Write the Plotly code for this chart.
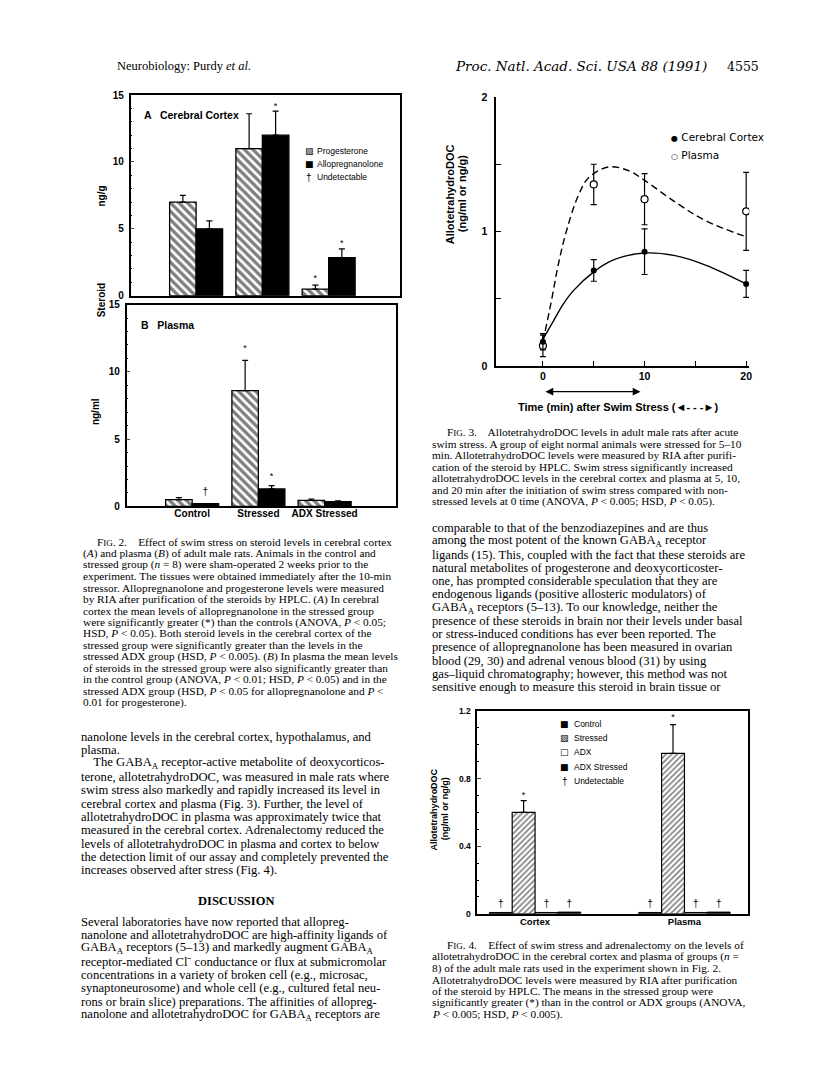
import plotly.graph_objects as go

W, H = 816, 1081

# ---------------- DATA ----------------
# Fig. 2 (A cerebral cortex, B plasma)
fig2_groups = ["Control", "Stressed", "ADX Stressed"]
fig2_xpos = [1, 2, 3]
cortex_prog = [7.0, 11.0, 0.5]
cortex_prog_err = [0.5, 2.6, 0.3]
cortex_allo = [5.0, 12.0, 2.85]
cortex_allo_err = [0.6, 1.8, 0.65]
cortex_prog_star = [None, None, 1.3]
cortex_allo_star = [None, 14.1, 3.85]
plasma_prog = [0.5, 8.6, 0.45]
plasma_prog_err = [0.15, 2.25, 0.1]
plasma_allo = [0.2, 1.3, 0.35]
plasma_allo_err = [0.0, 0.25, 0.07]
plasma_prog_star = [None, 11.7, None]
plasma_allo_star = [None, 2.2, None]
plasma_allo_dagger = [1.0, None, None]

# Fig. 3 time course
time_min = [0, 5, 10, 20]
cortex_thdoc = [0.18, 0.71, 0.85, 0.61]
cortex_thdoc_err = [0.06, 0.08, 0.17, 0.10]
plasma_thdoc = [0.15, 1.35, 1.24, 1.15]
plasma_thdoc_err = [0.08, 0.15, 0.19, 0.29]
cortex_fit_t = [0, 1, 2, 3, 5, 7, 10, 13, 16, 20]
cortex_fit_y = [0.20, 0.33, 0.46, 0.56, 0.70, 0.79, 0.84, 0.82, 0.75, 0.61]
plasma_fit_t = [0, 0.8, 1.5, 2.3, 3.5, 4.5, 6.5, 8.5, 10, 13, 16, 20]
plasma_fit_y = [0.18, 0.47, 0.75, 1.00, 1.27, 1.40, 1.48, 1.45, 1.38, 1.22, 1.08, 0.96]
stress_period = [0.1, 9.6]   # swim stress interval (min), drawn as double arrow

# Fig. 4 allotetrahydroDOC by group
fig4_tissues = ["Cortex", "Plasma"]
fig4_xpos = [1, 2]
f4_control = [0.008, 0.008]
f4_stressed = [0.60, 0.95]
f4_stressed_err = [0.07, 0.17]
f4_adx = [0.008, 0.008]
f4_adx_stressed = [0.01, 0.01]
f4_star = [0.70, 1.16]
f4_dagger = [0.055, 0.055]

# ---------------- TEXT ----------------
fig2_caption = [
    "F<span style='font-size:9px'>IG</span>. 2.    Effect of swim stress on steroid levels in cerebral cortex",
    "(<i>A</i>) and plasma (<i>B</i>) of adult male rats. Animals in the control and",
    "stressed group (<i>n</i> = 8) were sham-operated 2 weeks prior to the",
    "experiment. The tissues were obtained immediately after the 10-min",
    "stressor. Allopregnanolone and progesterone levels were measured",
    "by RIA after purification of the steroids by HPLC. (<i>A</i>) In cerebral",
    "cortex the mean levels of allopregnanolone in the stressed group",
    "were significantly greater (*) than the controls (ANOVA, <i>P</i> < 0.05;",
    "HSD, <i>P</i> < 0.05). Both steroid levels in the cerebral cortex of the",
    "stressed group were significantly greater than the levels in the",
    "stressed ADX group (HSD, <i>P</i> < 0.005). (<i>B</i>) In plasma the mean levels",
    "of steroids in the stressed group were also significantly greater than",
    "in the control group (ANOVA, <i>P</i> < 0.01; HSD, <i>P</i> < 0.05) and in the",
    "stressed ADX group (HSD, <i>P</i> < 0.05 for allopregnanolone and <i>P</i> <",
    "0.01 for progesterone).",
]
left_body = [
    "nanolone levels in the cerebral cortex, hypothalamus, and",
    "plasma.",
    "    The GABA<sub>A</sub> receptor-active metabolite of deoxycorticos-",
    "terone, allotetrahydroDOC, was measured in male rats where",
    "swim stress also markedly and rapidly increased its level in",
    "cerebral cortex and plasma (Fig. 3). Further, the level of",
    "allotetrahydroDOC in plasma was approximately twice that",
    "measured in the cerebral cortex. Adrenalectomy reduced the",
    "levels of allotetrahydroDOC in plasma and cortex to below",
    "the detection limit of our assay and completely prevented the",
    "increases observed after stress (Fig. 4).",
]
discussion = [
    "Several laboratories have now reported that allopreg-",
    "nanolone and allotetrahydroDOC are high-affinity ligands of",
    "GABA<sub>A</sub> receptors (5–13) and markedly augment GABA<sub>A</sub>",
    "receptor-mediated Cl⁻ conductance or flux at submicromolar",
    "concentrations in a variety of broken cell (e.g., microsac,",
    "synaptoneurosome) and whole cell (e.g., cultured fetal neu-",
    "rons or brain slice) preparations. The affinities of allopreg-",
    "nanolone and allotetrahydroDOC for GABA<sub>A</sub> receptors are",
]
fig3_caption = [
    "F<span style='font-size:9px'>IG</span>. 3.    AllotetrahydroDOC levels in adult male rats after acute",
    "swim stress. A group of eight normal animals were stressed for 5–10",
    "min. AllotetrahydroDOC levels were measured by RIA after purifi-",
    "cation of the steroid by HPLC. Swim stress significantly increased",
    "allotetrahydroDOC levels in the cerebral cortex and plasma at 5, 10,",
    "and 20 min after the initiation of swim stress compared with non-",
    "stressed levels at 0 time (ANOVA, <i>P</i> < 0.005; HSD, <i>P</i> < 0.05).",
]
right_body = [
    "comparable to that of the benzodiazepines and are thus",
    "among the most potent of the known GABA<sub>A</sub> receptor",
    "ligands (15). This, coupled with the fact that these steroids are",
    "natural metabolites of progesterone and deoxycorticoster-",
    "one, has prompted considerable speculation that they are",
    "endogenous ligands (positive allosteric modulators) of",
    "GABA<sub>A</sub> receptors (5–13). To our knowledge, neither the",
    "presence of these steroids in brain nor their levels under basal",
    "or stress-induced conditions has ever been reported. The",
    "presence of allopregnanolone has been measured in ovarian",
    "blood (29, 30) and adrenal venous blood (31) by using",
    "gas–liquid chromatography; however, this method was not",
    "sensitive enough to measure this steroid in brain tissue or",
]
fig4_caption = [
    "F<span style='font-size:9px'>IG</span>. 4.    Effect of swim stress and adrenalectomy on the levels of",
    "allotetrahydroDOC in the cerebral cortex and plasma of groups (<i>n</i> =",
    "8) of the adult male rats used in the experiment shown in Fig. 2.",
    "AllotetrahydroDOC levels were measured by RIA after purification",
    "of the steroid by HPLC. The means in the stressed group were",
    "significantly greater (*) than in the control or ADX groups (ANOVA,",
    "<i>P</i> < 0.005; HSD, <i>P</i> < 0.005).",
]

SERIF = "Liberation Serif"
SANS = "Liberation Sans"
CAP = 11.3
BODY = 12.6


def dx(a, b):
    return [a / W, b / W]


def dy(top, bottom):
    return [1 - bottom / H, 1 - top / H]


fig = go.Figure()

# ---------- Fig 2 bars ----------
BW2 = 0.4
hatch2 = dict(shape="\\", fgcolor="black", bgcolor="white", size=6, solidity=0.55)
err_kw = dict(type="data", symmetric=False, color="black", thickness=1.2, width=3)


def add_fig2(xa, ya, prog, perr, allo, aerr):
    fig.add_trace(go.Bar(x=fig2_xpos, y=prog, width=BW2, offset=-BW2, xaxis=xa, yaxis=ya,
                         marker=dict(color="white", pattern=hatch2, line=dict(color="black", width=1.3)),
                         error_y=dict(array=perr, arrayminus=[0] * 3, **err_kw), showlegend=False,
                         name="Progesterone"))
    fig.add_trace(go.Bar(x=fig2_xpos, y=allo, width=BW2, offset=0, xaxis=xa, yaxis=ya,
                         marker=dict(color="black", line=dict(color="black", width=1.3)),
                         error_y=dict(array=aerr, arrayminus=[0] * 3, **err_kw), showlegend=False,
                         name="Allopregnanolone"))


add_fig2("x", "y", cortex_prog, cortex_prog_err, cortex_allo, cortex_allo_err)
add_fig2("x2", "y2", plasma_prog, plasma_prog_err, plasma_allo, plasma_allo_err)


def add_marks(xa, ya, xs, ys, sym, size=9):
    px = [x for x, y in zip(xs, ys) if y is not None]
    py = [y for y in ys if y is not None]
    fig.add_trace(go.Scatter(x=px, y=py, mode="text", text=[sym] * len(px), xaxis=xa, yaxis=ya,
                             textfont=dict(size=size, color="black", family=SANS),
                             showlegend=False, hoverinfo="skip"))


add_marks("x", "y", [x - BW2 / 2 for x in fig2_xpos], cortex_prog_star, "*")
add_marks("x", "y", [x + BW2 / 2 for x in fig2_xpos], cortex_allo_star, "*")
add_marks("x2", "y2", [x - BW2 / 2 for x in fig2_xpos], plasma_prog_star, "*")
add_marks("x2", "y2", [x + BW2 / 2 for x in fig2_xpos], plasma_allo_star, "*")
add_marks("x2", "y2", [x + BW2 / 2 for x in fig2_xpos], plasma_allo_dagger, "†", 10)

# ---------- Fig 3 ----------
fig.add_trace(go.Scatter(x=plasma_fit_t, y=plasma_fit_y, mode="lines", line_shape="spline",
                         line=dict(color="black", width=1.4, dash="7px,4px"), xaxis="x3", yaxis="y3",
                         showlegend=False, hoverinfo="skip"))
fig.add_trace(go.Scatter(x=cortex_fit_t, y=cortex_fit_y, mode="lines", line_shape="spline",
                         line=dict(color="black", width=1.4), xaxis="x3", yaxis="y3",
                         showlegend=False, hoverinfo="skip"))
fig.add_trace(go.Scatter(x=time_min, y=plasma_thdoc, mode="markers", xaxis="x3", yaxis="y3",
                         marker=dict(symbol="circle", size=7, color="white", line=dict(color="black", width=1.2)),
                         error_y=dict(type="data", array=plasma_thdoc_err, color="black", thickness=1.2, width=3),
                         showlegend=False, name="Plasma"))
fig.add_trace(go.Scatter(x=time_min, y=cortex_thdoc, mode="markers", xaxis="x3", yaxis="y3",
                         marker=dict(symbol="circle", size=6, color="black"),
                         error_y=dict(type="data", array=cortex_thdoc_err, color="black", thickness=1.2, width=3),
                         showlegend=False, name="Cerebral Cortex"))

# ---------- Fig 4 ----------
BW4 = 0.153
hatch4 = dict(shape="/", fgcolor="black", bgcolor="white", size=4, solidity=0.4)
fig.add_trace(go.Bar(x=fig4_xpos, y=f4_control, width=BW4, offset=-2 * BW4, xaxis="x4", yaxis="y4",
                     marker=dict(color="black", line=dict(color="black", width=1)), showlegend=False, name="Control"))
fig.add_trace(go.Bar(x=fig4_xpos, y=f4_stressed, width=BW4, offset=-BW4, xaxis="x4", yaxis="y4",
                     marker=dict(color="white", pattern=hatch4, line=dict(color="black", width=1.2)),
                     error_y=dict(array=f4_stressed_err, arrayminus=[0, 0], **err_kw),
                     showlegend=False, name="Stressed"))
fig.add_trace(go.Bar(x=fig4_xpos, y=f4_adx, width=BW4, offset=0, xaxis="x4", yaxis="y4",
                     marker=dict(color="white", line=dict(color="black", width=1)), showlegend=False, name="ADX"))
fig.add_trace(go.Bar(x=fig4_xpos, y=f4_adx_stressed, width=BW4, offset=BW4, xaxis="x4", yaxis="y4",
                     marker=dict(color="black", line=dict(color="black", width=1)), showlegend=False,
                     name="ADX Stressed"))
add_marks("x4", "y4", [x - BW4 / 2 for x in fig4_xpos], f4_star, "*")
for off in (-1.5 * BW4, 0.5 * BW4, 1.5 * BW4):
    add_marks("x4", "y4", [x + off for x in fig4_xpos], f4_dagger, "†", 10)

# ---------- axes ----------
tickfont = dict(family=SANS, size=10, color="black", weight="bold")
box = dict(showline=True, linecolor="black", linewidth=1.5, mirror=True, showgrid=False, zeroline=False)

layout = dict(
    width=W, height=H, autosize=False, margin=dict(l=0, r=0, t=0, b=0),
    paper_bgcolor="white", plot_bgcolor="rgba(0,0,0,0)", showlegend=False, barmode="overlay",
    xaxis=dict(domain=dx(131, 401), range=[0.01, 4.07], showticklabels=False, ticks="", anchor="y", **box),
    yaxis=dict(domain=dy(90, 293), range=[0, 15], tickvals=[0, 5, 10, 15], ticks="inside", ticklen=4,
               tickfont=tickfont, anchor="x", ticklabelstandoff=3,
               minor=dict(dtick=1, ticks="inside", ticklen=2, tickcolor="black"), **box),
    xaxis2=dict(domain=dx(127, 397), range=[0.01, 4.07], tickvals=fig2_xpos, ticktext=fig2_groups,
                tickfont=dict(family=SANS, size=10, color="black", weight="bold"), ticks="", anchor="y2",
                ticklabelstandoff=-3, **box),
    yaxis2=dict(domain=dy(302, 506), range=[0, 15], tickvals=[0, 5, 10, 15], ticks="inside", ticklen=4,
                tickfont=tickfont, anchor="x2", ticklabelstandoff=3,
                minor=dict(dtick=1, ticks="inside", ticklen=2, tickcolor="black"), **box),
    xaxis3=dict(domain=dx(498, 752), range=[-4.6, 20.3], tickvals=[0, 10, 20],
                ticks="inside", ticklen=5, tickwidth=1.2, tickcolor="black", ticklabelstandoff=0,
                minor=dict(dtick=5, ticks="inside", ticklen=5, tickwidth=1.2, tickcolor="black"),
                tickfont=dict(family=SANS, size=10.5, color="black", weight="bold"), showline=True,
                linecolor="black", linewidth=1.5, showgrid=False, zeroline=False, anchor="y3"),
    yaxis3=dict(domain=dy(92, 364), range=[0, 2.0], tickvals=[0, 1, 2],
                ticks="inside", ticklen=5, tickwidth=1.2, tickcolor="black", ticklabelstandoff=5,
                minor=dict(dtick=0.5, ticks="inside", ticklen=5, tickwidth=1.2, tickcolor="black"),
                tickfont=dict(family=SANS, size=10.5, color="black", weight="bold"), showline=True,
                linecolor="black", linewidth=1.5, showgrid=False, zeroline=False, anchor="x3"),
    xaxis4=dict(domain=dx(479, 751), range=[0.613, 2.427], tickvals=fig4_xpos, ticktext=fig4_tissues,
                tickfont=dict(family=SANS, size=9.5, color="black", weight="bold"), ticks="", anchor="y4",
                ticklabelstandoff=-2, **box),
    yaxis4=dict(domain=dy(713, 918), range=[0, 1.2], tickvals=[0, 0.4, 0.8, 1.2],
                ticktext=["0", "0.4", "0.8", "1.2"], ticks="inside", ticklen=4, ticklabelstandoff=3,
                tickfont=dict(family=SANS, size=8.5, color="black", weight="bold"),
                anchor="x4", minor=dict(dtick=0.1, ticks="inside", ticklen=2, tickcolor="black"), **box),
)
fig.update_layout(**layout)

ann = []

# swim-stress double arrow under fig 3 x axis
ann.append(dict(x=stress_period[1], ax=stress_period[0], xref="x3", axref="x3",
                y=1 - 390 / H, yref="paper", ay=0, ayref="pixel", text="", showarrow=True,
                arrowhead=2, arrowside="end+start", arrowsize=1.2, arrowwidth=1.3, arrowcolor="black"))


def txt(x, y, s, size, family=SERIF, anchor="left", bold=False, angle=0, italic=False):
    ann.append(dict(x=x / W, y=1 - y / H, xref="paper", yref="paper", text=s, showarrow=False,
                    xanchor=anchor, yanchor="middle", textangle=angle,
                    font=dict(family=family, size=size, color="black",
                              weight="bold" if bold else "normal",
                              style="italic" if italic else "normal")))


# header
txt(115, 61, "Neurobiology: Purdy <i>et al.</i>", 12.5)
txt(455, 61, "Proc. Natl. Acad. Sci. USA 88 (1991)", 13.5, "DejaVu Serif", italic=True)
txt(728, 61, "4555", 12.5, "DejaVu Serif")

# fig 2 labels
txt(143, 110, "A   Cerebral Cortex", 10.5, SANS, bold=True)
txt(140, 323, "B   Plasma", 10.5, SANS, bold=True)
txt(102, 192, "ng/g", 10, SANS, "center", True, -90)
txt(102, 298, "Steroid", 10, SANS, "center", True, -90)
txt(96, 410, "ng/ml", 10, SANS, "center", True, -90)
txt(304, 147, "▧", 9, "DejaVu Sans")
txt(316, 147, "Progesterone", 8.5, SANS)
txt(304, 160, "■", 9, "DejaVu Sans")
txt(316, 160, "Allopregnanolone", 8.5, SANS)
txt(305, 173, "†", 10, SANS)
txt(316, 173, "Undetectable", 8.5, SANS)

# fig 3 labels
txt(452, 190, "AllotetrahydroDOC", 11, SANS, "center", True, -90)
txt(464, 190, "(ng/ml or ng/g)", 11, SANS, "center", True, -90)
txt(671, 132, "<span style='font-size:8px'>●</span> Cerebral Cortex", 10.5, "DejaVu Sans")
txt(671, 151, "<span style='font-size:8px'>○</span> Plasma", 10.5, "DejaVu Sans")
txt(620, 406, "Time (min) after Swim Stress (◄- - -►)", 11, SANS, "center", True)

# fig 4 labels
txt(436, 812, "AllotetrahydroDOC", 9, SANS, "center", True, -90)
txt(447, 812, "(ng/ml or ng/g)", 9, SANS, "center", True, -90)
leg4 = [("■", "Control"), ("▨", "Stressed"), ("□", "ADX"), ("■", "ADX Stressed")]
for i, (g, lab) in enumerate(leg4):
    yy = 726 + i * 14.4
    txt(560, yy, g, 9, "DejaVu Sans")
    txt(574, yy, lab, 8.5, SANS)
txt(562, 784, "†", 10, SANS)
txt(574, 784, "Undetectable", 8.5, SANS)

# captions and body text
for i, s in enumerate(fig2_caption):
    txt(95 if i == 0 else 81, 542 + i * 11.6, s, CAP)
for i, s in enumerate(left_body):
    txt(79, 739 + i * 13.5, s, BODY)
txt(237, 905, "DISCUSSION", 12.5, SERIF, "center", True)
for i, s in enumerate(discussion):
    txt(79, 926 + i * 13.5, s, BODY)
for i, s in enumerate(fig3_caption):
    txt(447 if i == 0 else 432, 431 + i * 11.7, s, CAP)
for i, s in enumerate(right_body):
    txt(432, 528 + i * 13.4, s, BODY)
for i, s in enumerate(fig4_caption):
    txt(447 if i == 0 else 432, 950 + i * 11.6, s, CAP)

fig.update_layout(annotations=ann)
fig.write_html("out.html", config={"displayModeBar": False},
               post_script="document.body.style.margin='0';document.body.style.padding='0';"
                           "document.documentElement.style.overflow='hidden';")
